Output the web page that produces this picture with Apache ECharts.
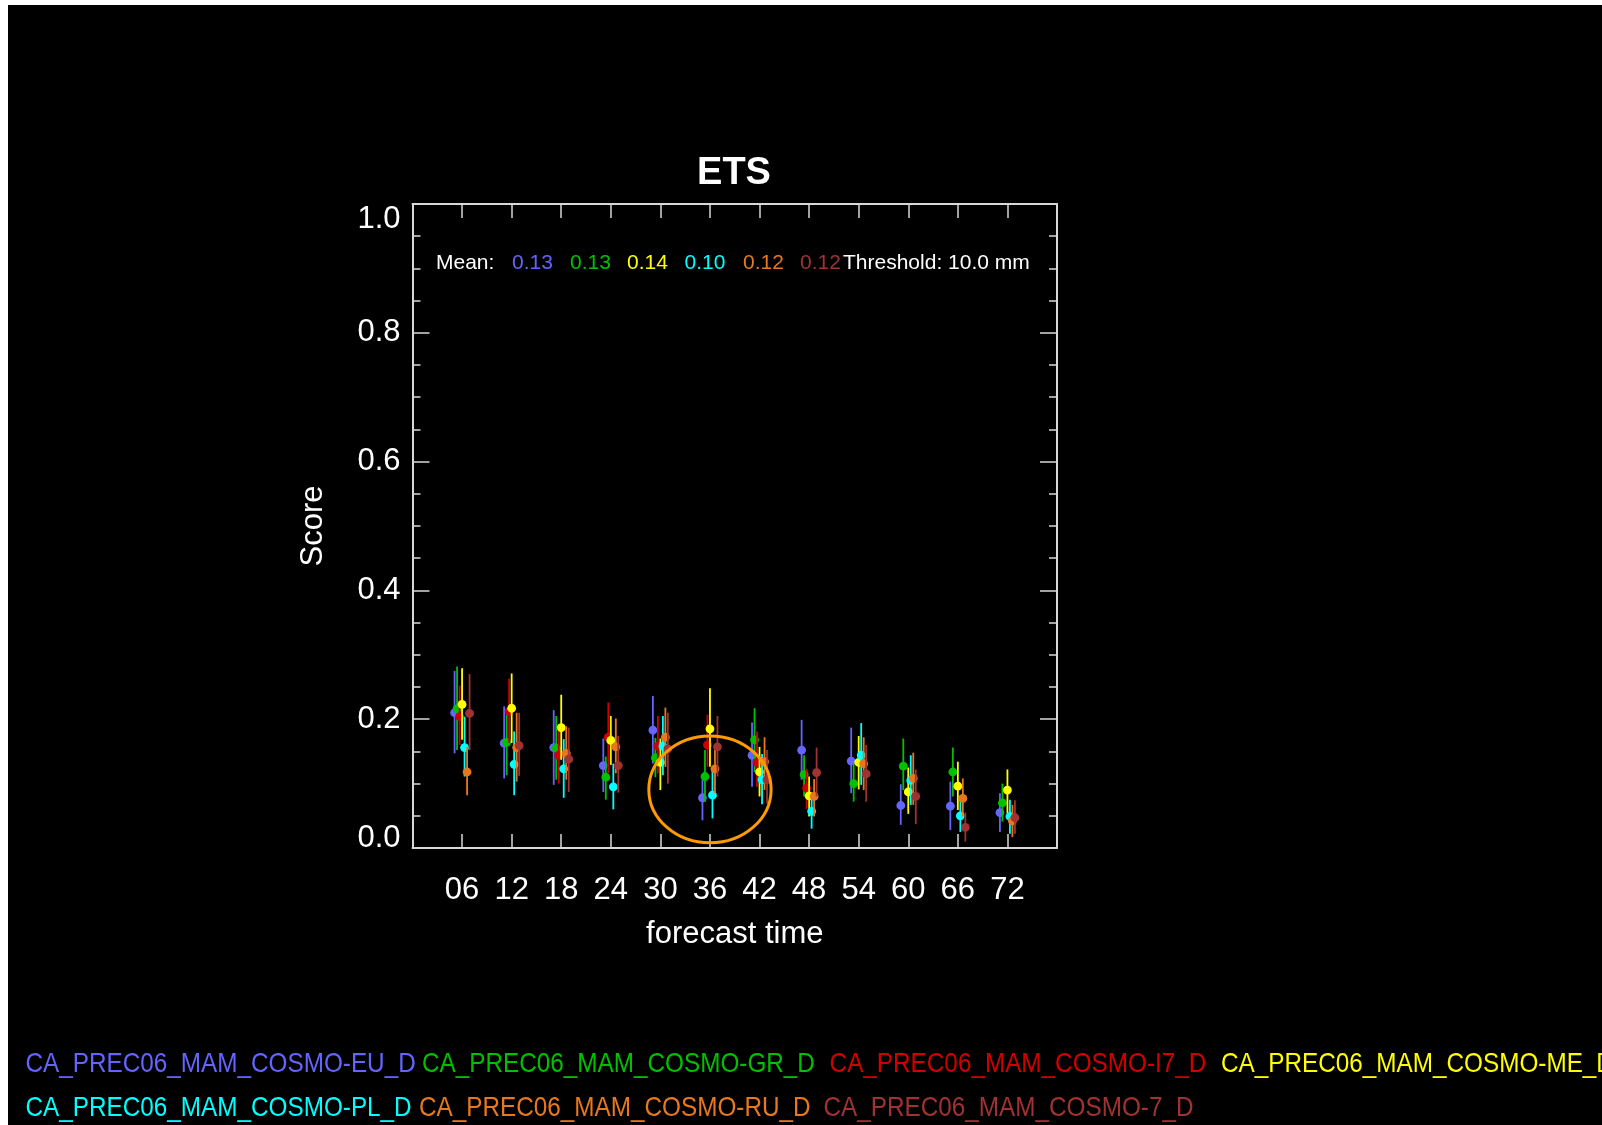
<!DOCTYPE html>
<html>
<head>
<meta charset="utf-8">
<script src="https://cdn.jsdelivr.net/npm/echarts@6/dist/echarts.min.js"></script>
<style>
html,body{margin:0;padding:0;background:#fff;}
#chart{width:1602px;height:1125px;}
</style>
</head>
<body>
<div id="chart"></div>
<script>
// ---------------- data ----------------
const hours = [6, 12, 18, 24, 30, 36, 42, 48, 54, 60, 66, 72];
const modelNames = [
  'CA_PREC06_MAM_COSMO-EU_D', 'CA_PREC06_MAM_COSMO-GR_D', 'CA_PREC06_MAM_COSMO-I7_D',
  'CA_PREC06_MAM_COSMO-ME_D', 'CA_PREC06_MAM_COSMO-PL_D', 'CA_PREC06_MAM_COSMO-RU_D',
  'CA_PREC06_MAM_COSMO-7_D'
];
const modelColors = ['#6464ff', '#00c000', '#d00000', '#ffff00', '#00ffff', '#e8781e', '#a03232'];

const euScore = [0.210, 0.163, 0.156, 0.128, 0.183, 0.078, 0.144, 0.152, 0.135, 0.066, 0.065, 0.055];
const euLow   = [0.147, 0.108, 0.098, 0.087, 0.131, 0.043, 0.095, 0.106, 0.085, 0.036, 0.028, 0.025];
const euHigh  = [0.275, 0.220, 0.214, 0.170, 0.236, 0.106, 0.195, 0.199, 0.187, 0.099, 0.103, 0.085];

const grScore = [0.216, 0.164, 0.155, 0.110, 0.140, 0.111, 0.168, 0.114, 0.100, 0.127, 0.118, 0.070];
const grLow   = [0.152, 0.113, 0.106, 0.075, 0.110, 0.072, 0.118, 0.080, 0.072, 0.090, 0.080, 0.041];
const grHigh  = [0.282, 0.208, 0.205, 0.142, 0.171, 0.152, 0.217, 0.144, 0.131, 0.170, 0.156, 0.100];

const i7Score = [0.204, 0.212, 0.144, 0.172, 0.158, 0.160, 0.133, 0.093, null, null, null, null];
const i7Low   = [0.160, 0.163, 0.100, 0.116, 0.116, 0.126, 0.095, 0.061, null, null, null, null];
const i7High  = [0.252, 0.263, 0.183, 0.226, 0.205, 0.207, 0.181, 0.123, null, null, null, null];

const meScore = [0.223, 0.217, 0.187, 0.167, 0.133, 0.185, 0.118, 0.081, 0.133, 0.087, 0.096, 0.090];
const meLow   = [0.168, 0.163, 0.137, 0.129, 0.090, 0.126, 0.080, 0.049, 0.091, 0.053, 0.059, 0.054];
const meHigh  = [0.279, 0.271, 0.238, 0.205, 0.170, 0.248, 0.157, 0.111, 0.174, 0.125, 0.134, 0.122];

const plScore = [0.156, 0.130, 0.123, 0.095, 0.158, 0.082, 0.106, 0.057, 0.144, 0.105, 0.050, 0.049];
const plLow   = [0.111, 0.082, 0.078, 0.060, 0.113, 0.046, 0.068, 0.030, 0.098, 0.067, 0.025, 0.022];
const plHigh  = [0.204, 0.181, 0.169, 0.131, 0.205, 0.123, 0.146, 0.080, 0.194, 0.144, 0.080, 0.075];

const ruScore = [0.118, 0.156, 0.147, 0.157, 0.172, 0.123, 0.134, 0.080, 0.131, 0.108, 0.077, 0.042];
const ruLow   = [0.082, 0.103, 0.106, 0.116, 0.126, 0.085, 0.090, 0.049, 0.090, 0.067, 0.049, 0.017];
const ruHigh  = [0.157, 0.210, 0.189, 0.201, 0.218, 0.157, 0.172, 0.107, 0.172, 0.148, 0.108, 0.067];

const c7Score = [0.209, 0.159, 0.138, 0.128, 0.154, 0.157, 0.106, 0.117, 0.115, 0.080, 0.032, 0.047];
const c7Low   = [0.152, 0.112, 0.087, 0.086, 0.100, 0.111, 0.069, 0.080, 0.072, 0.037, 0.010, 0.022];
const c7High  = [0.270, 0.210, 0.187, 0.174, 0.210, 0.205, 0.152, 0.156, 0.160, 0.122, 0.055, 0.074];

const meanLabels = ['0.13', '0.13', '0.14', '0.10', '0.12', '0.12'];
const meanColorIdx = [0, 1, 3, 4, 5, 6];
const thresholdText = 'Threshold: 10.0 mm';
const yTicks = [0, 0.2, 0.4, 0.6, 0.8, 1.0];
// highlighted region (orange ellipse), in data units
const highlightCenter = [36, 0.091];
const highlightHalfSize = [7.4, 0.083];

// ---------------- build ----------------
const scores = [euScore, grScore, i7Score, meScore, plScore, ruScore, c7Score];
const lows   = [euLow, grLow, i7Low, meLow, plLow, ruLow, c7Low];
const highs  = [euHigh, grHigh, i7High, meHigh, plHigh, ruHigh, c7High];

const FONT = '"Liberation Sans", Arial, Helvetica, sans-serif';
const AXIS_COLOR = '#d8d8d8';

const series = modelNames.map((name, i) => {
  const data = [];
  hours.forEach((h, k) => {
    if (scores[i][k] != null) data.push([h, scores[i][k], lows[i][k], highs[i][k]]);
  });
  const dx = (i - 3) * 2.5;
  const color = modelColors[i];
  return {
    type: 'custom',
    name: name,
    coordinateSystem: 'cartesian2d',
    encode: { x: 0, y: [1, 2, 3] },
    data: data,
    z: 10 + i,
    silent: true,
    renderItem: function (params, api) {
      const x = api.value(0);
      const p = api.coord([x, api.value(1)]);
      const pl = api.coord([x, api.value(2)]);
      const ph = api.coord([x, api.value(3)]);
      const cx = p[0] + dx;
      return {
        type: 'group',
        children: [
          { type: 'line', shape: { x1: cx, y1: pl[1], x2: cx, y2: ph[1] },
            style: { stroke: color, lineWidth: 1.8 } },
          { type: 'circle', shape: { cx: cx, cy: p[1], r: 4.4 },
            style: { fill: color } }
        ]
      };
    }
  };
});

series.push({
  type: 'custom',
  name: 'highlight',
  coordinateSystem: 'cartesian2d',
  encode: { x: 0, y: 1 },
  data: [[highlightCenter[0], highlightCenter[1], highlightHalfSize[0], highlightHalfSize[1]]],
  z: 30,
  silent: true,
  renderItem: function (params, api) {
    const c = api.coord([api.value(0), api.value(1)]);
    const s = api.size([api.value(2), api.value(3)]);
    return {
      type: 'ellipse',
      shape: { cx: c[0], cy: c[1], rx: s[0], ry: s[1] },
      style: { fill: null, stroke: '#ff9a00', lineWidth: 3 }
    };
  }
});

const graphics = [
  { type: 'rect', shape: { x: 0, y: 0, width: 1602, height: 5 }, style: { fill: '#fff' }, z: 100 },
  { type: 'rect', shape: { x: 0, y: 0, width: 8, height: 1125 }, style: { fill: '#fff' }, z: 100 },
  { type: 'text', x: 734, y: 174, z: 50,
    style: { text: 'ETS', fill: '#fff', font: 'bold 38px ' + FONT, align: 'center', verticalAlign: 'middle' } },
  { type: 'text', x: 436, y: 263, z: 50,
    style: { text: 'Mean:', fill: '#fff', font: '21px ' + FONT, align: 'left', verticalAlign: 'middle' } }
];
const meanX = [512, 570, 627, 684.5, 743, 800];
meanLabels.forEach((t, j) => {
  graphics.push({ type: 'text', x: meanX[j], y: 263, z: 50,
    style: { text: t, fill: modelColors[meanColorIdx[j]], font: '21px ' + FONT, align: 'left', verticalAlign: 'middle' } });
});
graphics.push({ type: 'text', x: 843, y: 263, z: 50,
  style: { text: thresholdText, fill: '#fff', font: '21px ' + FONT, align: 'left', verticalAlign: 'middle' } });

const legendPos = [[25.5, 1065], [422, 1065], [829.6, 1065], [1221, 1065],
                   [25.5, 1108.5], [419, 1108.5], [823.5, 1108.5]];
modelNames.forEach((n, i) => {
  graphics.push({ type: 'text', x: legendPos[i][0], y: legendPos[i][1], z: 50, scaleY: 1.12,
    style: { text: n, fill: modelColors[i], font: '24.3px ' + FONT, align: 'left', verticalAlign: 'middle' } });
});

const tickStyle = { color: AXIS_COLOR, width: 1.5 };
const lineStyle = { color: AXIS_COLOR, width: 2 };
const option = {
  backgroundColor: '#000',
  animation: false,
  grid: { left: 412.5, top: 204, width: 644.5, height: 644, containLabel: false },
  xAxis: [
    {
      type: 'value', min: 0, max: 78, interval: 6, position: 'bottom',
      name: 'forecast time', nameLocation: 'middle', nameGap: 71,
      nameTextStyle: { color: '#fff', fontSize: 31, fontFamily: FONT, verticalAlign: 'top' },
      axisLine: { show: true, onZero: false, lineStyle: lineStyle },
      axisTick: { show: true, inside: true, length: 14, lineStyle: tickStyle },
      axisLabel: {
        color: '#fff', fontSize: 31, fontFamily: FONT, margin: 27,
        formatter: v => (v === 0 || v === 78) ? '' : String(v).padStart(2, '0')
      },
      splitLine: { show: false }
    },
    {
      type: 'value', min: 0, max: 78, interval: 6, position: 'top',
      axisLine: { show: true, onZero: false, lineStyle: lineStyle },
      axisTick: { show: true, inside: true, length: 14, lineStyle: tickStyle },
      axisLabel: { show: false },
      splitLine: { show: false }
    }
  ],
  yAxis: [
    {
      type: 'value', min: 0, max: 1, interval: 0.2, position: 'left',
      name: 'Score', nameLocation: 'middle', nameGap: 84,
      nameTextStyle: { color: '#fff', fontSize: 31, fontFamily: FONT },
      axisLine: { show: true, onZero: false, lineStyle: lineStyle },
      axisTick: { show: true, inside: true, length: 17, lineStyle: tickStyle },
      minorTick: { show: true, splitNumber: 4, length: 8, lineStyle: tickStyle },
      axisLabel: {
        color: '#fff', fontSize: 31, fontFamily: FONT, margin: 12,
        formatter: v => {
          const s = v.toFixed(1);
          if (Math.abs(v - yTicks[yTicks.length - 1]) < 1e-9) return '{t|' + s + '}';
          if (Math.abs(v - yTicks[0]) < 1e-9) return '{b|' + s + '}';
          return s;
        },
        rich: {
          t: { color: '#fff', fontSize: 31, fontFamily: FONT, padding: [30, 0, 0, 0] },
          b: { color: '#fff', fontSize: 31, fontFamily: FONT, padding: [0, 0, 20, 0] }
        }
      },
      splitLine: { show: false }
    },
    {
      type: 'value', min: 0, max: 1, interval: 0.2, position: 'right',
      axisLine: { show: true, onZero: false, lineStyle: lineStyle },
      axisTick: { show: true, inside: true, length: 17, lineStyle: tickStyle },
      minorTick: { show: true, splitNumber: 4, length: 8, lineStyle: tickStyle },
      axisLabel: { show: false },
      splitLine: { show: false }
    }
  ],
  graphic: graphics,
  series: series
};

const chart = echarts.init(document.getElementById('chart'), null, { renderer: 'canvas' });
chart.setOption(option);
</script>
</body>
</html>
